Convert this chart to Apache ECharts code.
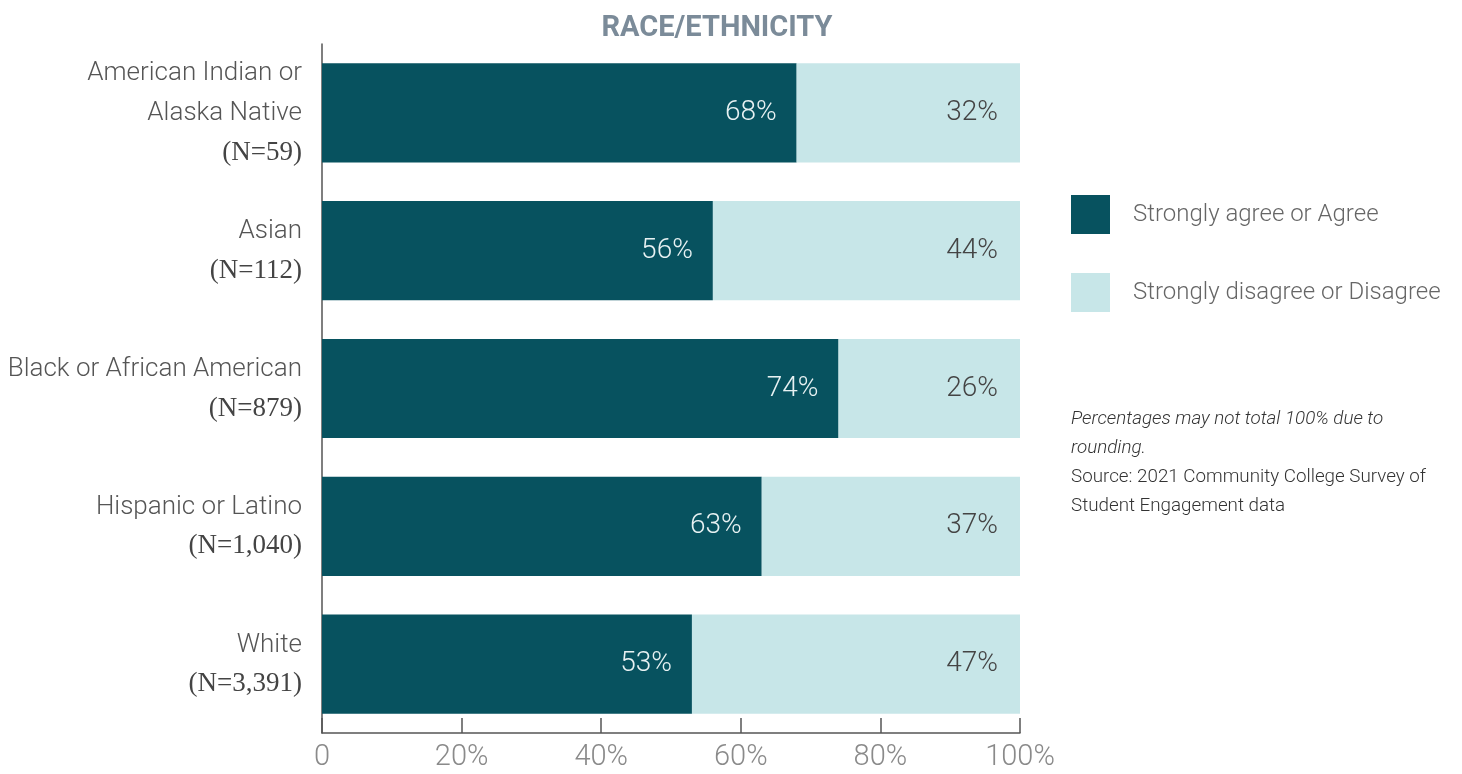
<!DOCTYPE html>
<html>
<head>
<meta charset="utf-8">
<script src="https://cdn.jsdelivr.net/npm/echarts@6/dist/echarts.min.js"></script>
<style>
  html, body { margin: 0; padding: 0; background: #fff; }
  #chart { width: 1462px; height: 774px; }
</style>
</head>
<body>
<div id="chart"></div>
<script>
// Group names (top to bottom) and respondent counts
const groups = ['American Indian or\nAlaska Native', 'Asian', 'Black or African American', 'Hispanic or Latino', 'White'];
const counts = ['59', '112', '879', '1,040', '3,391'];
// Share of respondents per response (%)
const agree = [68, 56, 74, 63, 53];
const disagree = [32, 44, 26, 37, 47];
const xTicks = [0, 20, 40, 60, 80, 100];

const LIGHT = 'Roboto, "Liberation Sans", sans-serif';
const DARK_TEAL = '#07525f';
const PALE_TEAL = '#c7e6e8';

const chart = echarts.init(document.getElementById('chart'));

chart.setOption({
  animation: false,
  backgroundColor: '#ffffff',
  title: {
    text: 'RACE/ETHNICITY',
    left: 712,
    textAlign: 'center',
    top: 9,
    textStyle: { fontFamily: LIGHT, fontWeight: 'bold', fontSize: 29, color: '#7b8b99' }
  },
  legend: {
    orient: 'vertical',
    left: 1071,
    top: 195,
    padding: 0,
    itemWidth: 39,
    itemHeight: 39,
    itemGap: 39,
    icon: 'rect',
    textStyle: { fontFamily: LIGHT, fontWeight: 300, fontSize: 24, color: '#666', padding: [0, 0, 0, 18] },
    data: ['Strongly agree or Agree', 'Strongly disagree or Disagree']
  },
  graphic: [{
    type: 'text',
    left: 1071,
    top: 410,
    style: {
      text: '{i|Percentages may not total 100% due to}\n{i|rounding.}\n{n|Source: 2021 Community College Survey of}\n{n|Student Engagement data}',
      rich: {
        i: { fontFamily: LIGHT, fontWeight: 300, fontStyle: 'italic', fontSize: 18.8, lineHeight: 29, fill: '#333' },
        n: { fontFamily: LIGHT, fontWeight: 300, fontSize: 18.8, lineHeight: 29, fill: '#333' }
      }
    }
  }],
  grid: { left: 322, right: 442, top: 44, bottom: 41, outerBoundsMode: 'none', containLabel: false },
  xAxis: {
    type: 'value',
    min: 0,
    max: 100,
    interval: 20,
    splitLine: { show: false },
    axisLine: { show: true, lineStyle: { color: '#555', width: 1.5 } },
    axisTick: { show: true, inside: true, length: 15, lineStyle: { color: '#555', width: 1.5 } },
    axisLabel: {
      fontFamily: LIGHT, fontWeight: 300, fontSize: 29, color: '#8a8a8a', margin: 10,
      formatter: v => (xTicks.includes(v) ? (v === 0 ? '0' : v + '%') : '')
    }
  },
  yAxis: {
    type: 'category',
    inverse: true,
    data: groups.map((g, i) => g + '\n(N=' + counts[i] + ')'),
    axisLine: { show: true, lineStyle: { color: '#555', width: 1.5 } },
    axisTick: { show: false },
    axisLabel: {
      margin: 20,
      align: 'right',
      formatter: (v, i) => {
        const lines = groups[i].split('\n').map(l => '{g|' + l + '}');
        return lines.join('\n') + '\n{n|(N=' + counts[i] + ')}';
      },
      rich: {
        g: { fontFamily: LIGHT, fontWeight: 300, fontSize: 26, color: '#555', lineHeight: 40, align: 'right' },
        n: { fontFamily: '"Liberation Serif", "DejaVu Serif", serif', fontSize: 27, color: '#444', lineHeight: 38, align: 'right' }
      }
    }
  },
  series: [
    {
      name: 'Strongly agree or Agree',
      type: 'bar',
      stack: 'total',
      barWidth: '72%',
      itemStyle: { color: DARK_TEAL },
      data: agree,
      label: {
        show: true,
        position: 'insideRight',
        distance: 20,
        formatter: '{c}%',
        fontFamily: LIGHT, fontWeight: 300, fontSize: 28, color: '#e8f2f3'
      }
    },
    {
      name: 'Strongly disagree or Disagree',
      type: 'bar',
      stack: 'total',
      barWidth: '72%',
      itemStyle: { color: PALE_TEAL },
      data: disagree,
      label: {
        show: true,
        position: 'insideRight',
        distance: 22,
        formatter: '{c}%',
        fontFamily: LIGHT, fontWeight: 300, fontSize: 28, color: '#444'
      }
    }
  ]
});
</script>
</body>
</html>
